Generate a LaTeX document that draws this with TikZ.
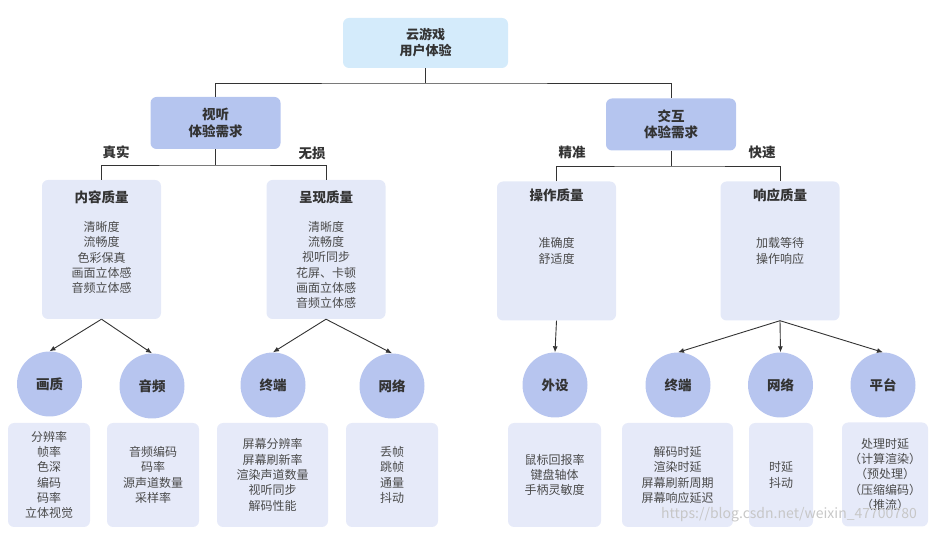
\documentclass[tikz,border=0pt]{standalone}
\usepackage{fontspec}
\setmainfont{Noto Sans CJK SC}
\usetikzlibrary{arrows.meta}
\definecolor{topc}{HTML}{D4EBFB}
\definecolor{midc}{HTML}{B5C5EF}
\definecolor{qc}{HTML}{E4E9F8}
\definecolor{circc}{HTML}{B7C5EF}
\definecolor{lc}{HTML}{E6EAF9}
\definecolor{txtd}{HTML}{333333}
\definecolor{txtg}{HTML}{4A4A4A}
\tikzset{
  box/.style={rounded corners=6pt, draw=none, inner sep=0pt, align=center},
  topbox/.style={box, fill=topc, minimum width=165pt, minimum height=50pt, text=txtd, font=\bfseries\fontsize{13}{16}\selectfont},
  midbox/.style={box, fill=midc, minimum width=130pt, minimum height=52pt, text=txtd, font=\bfseries\fontsize{13.5}{16.5}\selectfont},
  qbox/.style={box, fill=qc, minimum width=119pt, minimum height=139pt},
  qtitle/.style={text=txtd, font=\bfseries\fontsize{13.5}{16}\selectfont, inner sep=0pt},
  items/.style={text=txtg, align=center, inner sep=0pt, font=\fontsize{12}{15.3}\selectfont},
  circ/.style={circle, fill=circc, minimum size=65pt, inner sep=0pt, text=txtd, font=\bfseries\fontsize{13.5}{16}\selectfont},
  lbox/.style={box, fill=lc, minimum height=104pt, text=txtg, font=\fontsize{12}{15.3}\selectfont},
  lab/.style={text=txtd, font=\bfseries\fontsize{13.5}{16}\selectfont, inner sep=0pt},
  conn/.style={draw=txtd, line width=0.9pt},
  arr/.style={conn, -{Latex[length=6pt,width=5pt]}}
}
\begin{document}
\begin{tikzpicture}[x=1pt, y=-1pt]
\useasboundingbox (0,0) rectangle (935,534);
% top level
\node[topbox] (top) at (425.5,43) {云游戏\\用户体验};
\node[midbox] (st) at (215.5,123) {视听\\体验需求};
\node[midbox] (jh) at (671,124.5) {交互\\体验需求};
\coordinate (j0) at (425.5,83);
\draw[conn] (top.south) -- (j0);
\draw[conn] (st.north) |- (j0) -| (jh.north);
% quality boxes
\node[qbox] (nr) at (101.5,249.5) {};
\node[qbox] (cx) at (326,249.5) {};
\node[qbox] (cz) at (556.5,251) {};
\node[qbox] (xy) at (780,251) {};
\node[qtitle] (nrt) at (101.5,197) {内容质量};
\node[qtitle] (cxt) at (326,197) {呈现质量};
\node[qtitle] (czt) at (556.5,195) {操作质量};
\node[qtitle] (xyt) at (780,195) {响应质量};
\node[items] (nri) at (101.5,257.5) {清晰度\\流畅度\\色彩保真\\画面立体感\\音频立体感};
\node[items] (cxi) at (326,265) {清晰度\\流畅度\\视听同步\\花屏、卡顿\\画面立体感\\音频立体感};
\node[items] (czi) at (556.5,251) {准确度\\舒适度};
\node[items] (xyi) at (780,251) {加载等待\\操作响应};
% level 2 connectors
\coordinate (j1) at (215.5,165);
\coordinate (j2) at (671,166);
\draw[conn] (st.south) -- (j1);
\draw[conn] (nr.north) |- (j1) -| (cx.north);
\draw[conn] (jh.south) -- (j2);
\draw[conn] (cz.north) |- (j2) -| (xy.north);
\node[lab] (l1) at (116,152) {真实};
\node[lab] (l2) at (312,153) {无损};
\node[lab] (l3) at (572,152) {精准};
\node[lab] (l4) at (762,152) {快速};
% circles
\node[circ] (hz) at (49.5,384) {画质};
\node[circ] (yp) at (152,386) {音频};
\node[circ] (zd1) at (273,385) {终端};
\node[circ] (wl1) at (392,386) {网络};
\node[circ] (ws) at (555,385) {外设};
\node[circ] (zd2) at (678,385) {终端};
\node[circ] (wl2) at (780.5,385) {网络};
\node[circ] (pt) at (883,385) {平台};
\draw[arr] (nr.south) -- (hz.north);
\draw[arr] (nr.south) -- (yp.north);
\draw[arr] (cx.south) -- (zd1.north);
\draw[arr] (cx.south) -- (wl1.north);
\draw[arr] (cz.south) -- (ws.north);
\draw[arr] (xy.south) -- (zd2.north);
\draw[arr] (xy.south) -- (wl2.north);
\draw[arr] (xy.south) -- (pt.north);
% bottom boxes
\node[lbox, minimum width=82pt] (b1) at (49,475) {分辨率\\帧率\\色深\\编码\\码率\\立体视觉};
\node[lbox, minimum width=92pt] (b2) at (153,475) {音频编码\\码率\\源声道数量\\采样率};
\node[lbox, minimum width=111pt] (b3) at (272.5,475) {屏幕分辨率\\屏幕刷新率\\渲染声道数量\\视听同步\\解码性能};
\node[lbox, minimum width=92pt] (b4) at (392,475) {丢帧\\跳帧\\通量\\抖动};
\node[lbox, minimum width=93pt] (b5) at (554.5,475) {鼠标回报率\\键盘轴体\\手柄灵敏度};
\node[lbox, minimum width=111pt] (b6) at (677.5,475) {解码时延\\渲染时延\\屏幕刷新周期\\屏幕响应延迟};
\node[lbox, minimum width=64pt] (b7) at (781,475) {时延\\抖动};
\node[lbox, minimum width=86pt] (b8) at (885,474.5) {处理时延\\（计算渲染）\\（预处理）\\（压缩编码）\\（推流）};
% watermark
\node[text=black!22, font=\fontsize{14}{16}\selectfont, inner sep=0pt] (wm) at (789,515) {https://blog.csdn.net/weixin\_47700780};
\end{tikzpicture}
\end{document}
